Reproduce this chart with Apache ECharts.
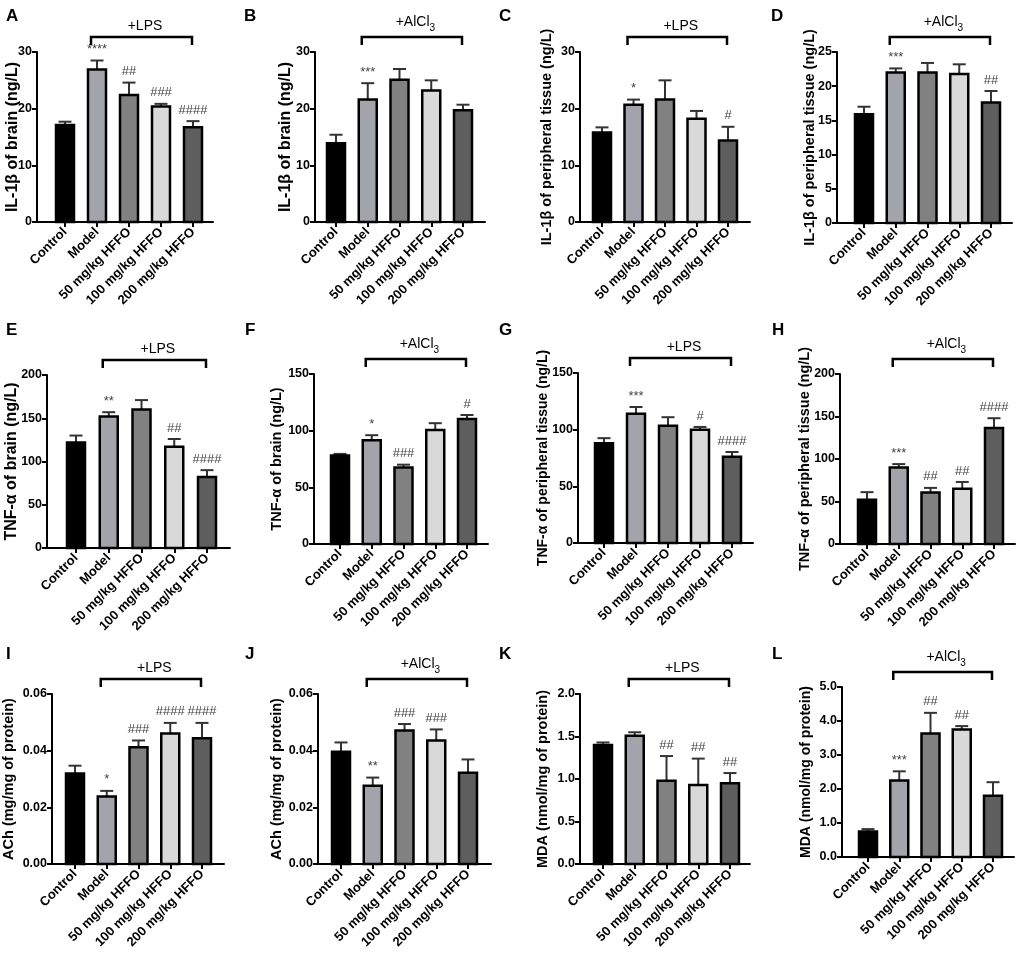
<!DOCTYPE html>
<html>
<head>
<meta charset="utf-8">
<script src="https://cdn.jsdelivr.net/npm/echarts@6/dist/echarts.min.js"></script>
<style>
  html, body { margin: 0; padding: 0; background: #fff; }
  #chart { width: 1021px; height: 959px; }
</style>
</head>
<body>
<div id="chart"></div>
<script>
const groups = ['Control', 'Model', '50 mg/kg HFFO', '100 mg/kg HFFO', '200 mg/kg HFFO']
const barColors = ['#000000', '#a3a3ab', '#818181', '#d9d9d9', '#5e5e5e']

// mean, SEM (upper error bar) and significance marks, one set per panel
const meanA = [17.1, 26.9, 22.4, 20.4, 16.7]
const semA = [0.6, 1.6, 2.2, 0.45, 1.1]
const sigA = ['', '****', '##', '###', '####']
const ticksA = [0, 10, 20, 30]

const meanB = [13.9, 21.6, 25.1, 23.2, 19.7]
const semB = [1.5, 2.9, 1.9, 1.8, 1.0]
const sigB = ['', '***', '', '', '']
const ticksB = [0, 10, 20, 30]

const meanC = [15.8, 20.7, 21.6, 18.2, 14.4]
const semC = [0.9, 0.9, 3.4, 1.4, 2.4]
const sigC = ['', '*', '', '', '#']
const ticksC = [0, 10, 20, 30]

const meanD = [15.9, 22.0, 22.0, 21.8, 17.6]
const semD = [1.1, 0.6, 1.4, 1.4, 1.7]
const sigD = ['', '***', '', '', '##']
const ticksD = [0, 5, 10, 15, 20, 25]

const meanE = [122, 152, 160, 117, 82]
const semE = [8, 5, 11, 9, 8]
const sigE = ['', '**', '', '##', '####']
const ticksE = [0, 50, 100, 150, 200]

const meanF = [78, 91.5, 67.6, 100.6, 110.3]
const semF = [1.5, 4.5, 2.4, 6, 3.5]
const sigF = ['', '*', '###', '', '#']
const ticksF = [0, 50, 100, 150]

const meanG = [88, 114, 103.5, 100, 76]
const semG = [4.5, 6, 7.5, 2.4, 4.3]
const sigG = ['', '***', '', '#', '####']
const ticksG = [0, 50, 100, 150]

const meanH = [52, 90, 60.5, 65, 136.5]
const semH = [9, 4, 5.5, 8, 11.5]
const sigH = ['', '***', '##', '##', '####']
const ticksH = [0, 50, 100, 150, 200]

const meanI = [0.0319, 0.0238, 0.0412, 0.0461, 0.0444]
const semI = [0.0028, 0.002, 0.0024, 0.0037, 0.0054]
const sigI = ['', '*', '###', '####', '####']
const ticksI = [0, 0.02, 0.04, 0.06]

const meanJ = [0.0396, 0.0276, 0.0471, 0.0436, 0.0322]
const semJ = [0.0033, 0.0029, 0.0023, 0.0039, 0.0047]
const sigJ = ['', '**', '###', '###', '']
const ticksJ = [0, 0.02, 0.04, 0.06]

const meanK = [1.40, 1.51, 0.98, 0.93, 0.95]
const semK = [0.03, 0.04, 0.29, 0.31, 0.12]
const sigK = ['', '', '##', '##', '##']
const ticksK = [0, 0.5, 1.0, 1.5, 2.0]

const meanL = [0.75, 2.25, 3.63, 3.75, 1.80]
const semL = [0.07, 0.27, 0.61, 0.10, 0.40]
const sigL = ['', '***', '##', '##', '']
const ticksL = [0, 1, 2, 3, 4, 5]

const FONT = '"Liberation Sans", Arial, sans-serif'

// box: y-axis x, first bar centre, last bar centre, x-axis end, plot top, plot bottom
const panels = [
  { letter: 'A', lx: 6, ly: 8, name: 'IL-1β of brain (ng/L)', nameSize: 16, nameGap: 16, dec: 0, treat: 'LPS', mean: meanA, sem: semA, sig: sigA, ticks: ticksA, box: [37, 65, 193, 213, 52, 222] },
  { letter: 'B', lx: 244, ly: 8, name: 'IL-1β of brain (ng/L)', nameSize: 16, nameGap: 21, dec: 0, treat: 'AlCl3', mean: meanB, sem: semB, sig: sigB, ticks: ticksB, box: [315, 336, 463, 485, 52, 222] },
  { letter: 'C', lx: 499, ly: 8, name: 'IL-1β of peripheral tissue (ng/L)', nameSize: 14.5, nameGap: 26, dec: 0, treat: 'LPS', mean: meanC, sem: semC, sig: sigC, ticks: ticksC, box: [580, 602, 728, 750, 52, 222] },
  { letter: 'D', lx: 771, ly: 8, name: 'IL-1β of peripheral tissue (ng/L)', nameSize: 14.5, nameGap: 20, dec: 0, treat: 'AlCl3', mean: meanD, sem: semD, sig: sigD, ticks: ticksD, box: [837, 864, 991, 1012, 52, 223] },
  { letter: 'E', lx: 6, ly: 322, name: 'TNF-α of brain (ng/L)', nameSize: 16, nameGap: 27, dec: 0, treat: 'LPS', mean: meanE, sem: semE, sig: sigE, ticks: ticksE, box: [47, 76, 207, 230, 375, 548] },
  { letter: 'F', lx: 245, ly: 322, name: 'TNF-α of brain (ng/L)', nameSize: 14.5, nameGap: 30, dec: 0, treat: 'AlCl3', mean: meanF, sem: semF, sig: sigF, ticks: ticksF, box: [314, 340, 467, 488, 374, 544] },
  { letter: 'G', lx: 499, ly: 322, name: 'TNF-α of peripheral tissue (ng/L)', nameSize: 14, nameGap: 28, dec: 0, treat: 'LPS', mean: meanG, sem: semG, sig: sigG, ticks: ticksG, box: [578, 604, 732, 753, 373, 543] },
  { letter: 'H', lx: 772, ly: 322, name: 'TNF-α of peripheral tissue (ng/L)', nameSize: 14.5, nameGap: 28, dec: 0, treat: 'AlCl3', mean: meanH, sem: semH, sig: sigH, ticks: ticksH, box: [840, 867, 994, 1015, 374, 544] },
  { letter: 'I', lx: 6, ly: 646, name: 'ACh (mg/mg of protein)', nameSize: 14.5, nameGap: 36, dec: 2, treat: 'LPS', mean: meanI, sem: semI, sig: sigI, ticks: ticksI, box: [52, 75, 202, 224, 694, 864] },
  { letter: 'J', lx: 245, ly: 646, name: 'ACh (mg/mg of protein)', nameSize: 14.5, nameGap: 34, dec: 2, treat: 'AlCl3', mean: meanJ, sem: semJ, sig: sigJ, ticks: ticksJ, box: [318, 341, 468, 491, 694, 864] },
  { letter: 'K', lx: 499, ly: 646, name: 'MDA (nmol/mg of protein)', nameSize: 14.5, nameGap: 30, dec: 1, treat: 'LPS', mean: meanK, sem: semK, sig: sigK, ticks: ticksK, box: [580, 603, 730, 750, 694, 864] },
  { letter: 'L', lx: 772, ly: 646, name: 'MDA (nmol/mg of protein)', nameSize: 14, nameGap: 29, dec: 1, treat: 'AlCl3', mean: meanL, sem: semL, sig: sigL, ticks: ticksL, box: [842, 868, 993, 1014, 687, 857] }
]

const chart = echarts.init(document.getElementById('chart'))

const axisLine = { show: true, onZero: false, lineStyle: { color: '#000', width: 2 } }
const axisTick = { show: true, length: 5, lineStyle: { color: '#000', width: 2 } }

const grids = [], xAxes = [], yAxes = [], series = []

panels.forEach((p, k) => {
  const [axL, first, last, axR, top, bottom] = p.box
  const step = (last - first) / 4
  grids.push({ left: axL, top, width: axR - axL, height: bottom - top, outerBoundsMode: 'none' })
  xAxes.push({
    gridIndex: k,
    type: 'value',
    min: -(first - axL) / step,
    max: 4 + (axR - last) / step,
    axisLine,
    axisTick: Object.assign({ customValues: [0, 1, 2, 3, 4] }, axisTick),
    axisLabel: {
      customValues: [0, 1, 2, 3, 4],
      formatter: v => groups[Math.round(v)],
      rotate: 45,
      margin: 8,
      color: '#000',
      fontSize: 13,
      fontWeight: 'bold',
      fontFamily: FONT
    },
    splitLine: { show: false }
  })
  yAxes.push({
    gridIndex: k,
    type: 'value',
    min: p.ticks[0],
    max: p.ticks[p.ticks.length - 1],
    interval: p.ticks[1] - p.ticks[0],
    axisLine,
    axisTick,
    axisLabel: {
      formatter: v => v.toFixed(p.dec),
      color: '#000',
      fontSize: 12.5,
      fontWeight: 'bold',
      fontFamily: FONT,
      margin: 5
    },
    splitLine: { show: false },
    name: p.name,
    nameLocation: 'middle',
    nameGap: p.nameGap,
    nameMoveOverlap: false,
    nameTextStyle: { color: '#000', fontSize: p.nameSize, fontWeight: 'bold', fontFamily: FONT }
  })

  // bars, error bars and significance marks
  series.push({
    type: 'custom',
    xAxisIndex: k,
    yAxisIndex: k,
    clip: false,
    silent: true,
    data: p.mean.map((v, i) => [i, v, p.sem[i]]),
    renderItem(params, api) {
      const i = api.value(0), v = api.value(1), e = api.value(2)
      const base = api.coord([i, 0]), topPt = api.coord([i, v]), cap = api.coord([i, v + e])
      const x = base[0]
      const children = [
        { type: 'line', shape: { x1: x, y1: topPt[1], x2: x, y2: cap[1] }, style: { stroke: '#333', lineWidth: 2 } },
        { type: 'line', shape: { x1: x - 6.5, y1: cap[1], x2: x + 6.5, y2: cap[1] }, style: { stroke: '#333', lineWidth: 2 } },
        { type: 'rect', shape: { x: x - 9, y: topPt[1], width: 18, height: base[1] - topPt[1] }, style: { fill: barColors[i], stroke: '#000', lineWidth: 2.5 } }
      ]
      const s = p.sig[i]
      if (s) {
        children.push({
          type: 'text',
          style: { text: s, x, y: cap[1] - 11, align: 'center', verticalAlign: 'middle', fontSize: 13, fontFamily: FONT, fill: '#444' }
        })
      }
      return { type: 'group', children }
    }
  })

  // treatment bracket over Model..200 mg/kg
  series.push({
    type: 'custom',
    xAxisIndex: k,
    yAxisIndex: k,
    clip: false,
    silent: true,
    data: [[1, 4]],
    renderItem(params, api) {
      const yMax = p.ticks[p.ticks.length - 1]
      const a = api.coord([api.value(0), yMax]), b = api.coord([api.value(1), yMax])
      const y = a[1] - 15, l = a[0] - 6, r = b[0] - 1
      const label = p.treat === 'LPS'
        ? { text: '+LPS' }
        : { text: '{m|+AlCl}{s|3}', rich: { m: { fontSize: 14, fontFamily: FONT, fill: '#000', padding: [0, 0, 4, 0], verticalAlign: 'bottom' }, s: { fontSize: 10, fontFamily: FONT, fill: '#000', verticalAlign: 'bottom' } } }
      return {
        type: 'group',
        children: [
          { type: 'polyline', shape: { points: [[l, y + 8], [l, y], [r, y], [r, y + 8]] }, style: { stroke: '#000', lineWidth: 2.5, fill: null } },
          { type: 'text', style: Object.assign({ x: (a[0] + b[0]) / 2, y: y - 4, align: 'center', verticalAlign: 'bottom', fontSize: 14, fontFamily: FONT, fill: '#000' }, label) }
        ]
      }
    }
  })
})

chart.setOption({
  backgroundColor: '#fff',
  animation: false,
  title: panels.map(p => ({
    text: p.letter,
    left: p.lx,
    top: p.ly,
    padding: 0,
    textStyle: { fontSize: 17, fontWeight: 'bold', fontFamily: FONT, color: '#000' }
  })),
  grid: grids,
  xAxis: xAxes,
  yAxis: yAxes,
  series
})
</script>
</body>
</html>
